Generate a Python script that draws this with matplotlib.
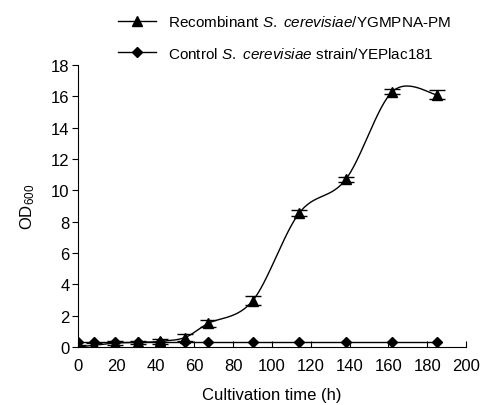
import numpy as np
import matplotlib
matplotlib.use("Agg")
import matplotlib.pyplot as plt
from matplotlib.lines import Line2D

plt.rcParams['font.family'] = ['Liberation Sans', 'DejaVu Sans']
plt.rcParams['mathtext.fontset'] = 'custom'
plt.rcParams['mathtext.rm'] = 'Liberation Sans'
plt.rcParams['mathtext.it'] = 'Liberation Sans:italic'

time_h = [0, 8, 19, 31, 42, 55, 67, 90, 114, 138, 162, 185]
recomb_od = [0.0, 0.1, 0.25, 0.3, 0.35, 0.6, 1.5, 2.95, 8.55, 10.7, 16.3, 16.1]
recomb_err = [0.1, 0.15, 0.1, 0.1, 0.15, 0.25, 0.2, 0.3, 0.2, 0.15, 0.15, 0.3]
control_od = [0.3, 0.3, 0.3, 0.3, 0.3, 0.3, 0.3, 0.3, 0.3, 0.3, 0.3, 0.3]

xticks = list(range(0, 201, 20))
yticks = list(range(0, 19, 2))


def smooth(x, y, n=30):
    x = np.asarray(x, float); y = np.asarray(y, float)
    px = np.concatenate([[x[0]], x, [x[-1]]])
    py = np.concatenate([[y[0]], y, [y[-1]]])
    ox, oy = [], []
    t = np.linspace(0, 1, n)
    for i in range(1, len(px) - 2):
        for arr, out in ((px, ox), (py, oy)):
            p0, p1, p2, p3 = arr[i - 1], arr[i], arr[i + 1], arr[i + 2]
            seg = 0.5 * ((2 * p1) + (-p0 + p2) * t + (2 * p0 - 5 * p1 + 4 * p2 - p3) * t ** 2
                         + (-p0 + 3 * p1 - 3 * p2 + p3) * t ** 3)
            out.extend(seg)
    return np.array(ox), np.array(oy)


fig = plt.figure(figsize=(4.83, 4.06), dpi=100)
ax = fig.add_axes([0.1615, 0.1429, 0.8035, 0.6945])

sx, sy = smooth(time_h, recomb_od)
ax.plot(sx, sy, color='black', lw=1.0, zorder=2)
ax.errorbar(time_h, recomb_od, yerr=recomb_err, fmt='none', ecolor='black',
            elinewidth=1.0, capsize=6, capthick=1.0, zorder=3)
ax.plot(time_h, recomb_od, ls='none', marker='^', ms=7, color='black', zorder=4)

cx, cy = smooth(time_h, control_od)
ax.plot(cx, cy, color='black', lw=1.0, zorder=2)
ax.plot(time_h, control_od, ls='none', marker='D', ms=5.5, color='black', zorder=4)

ax.set_xlim(0, 200)
ax.set_ylim(0, 18)
ax.set_xticks(xticks)
ax.set_yticks(yticks)
ax.spines['top'].set_visible(False)
ax.spines['right'].set_visible(False)
ax.tick_params(axis='x', direction='in', length=4, labelsize=12, pad=8)
ax.tick_params(axis='y', direction='out', length=4, labelsize=12, pad=2)
ax.set_xlabel('Cultivation time (h)', fontsize=12, labelpad=10)
ax.set_ylabel('OD$_{600}$', fontsize=12, labelpad=10)

handles = [Line2D([], [], color='black', lw=1.0, marker='^', ms=7),
           Line2D([], [], color='black', lw=1.0, marker='D', ms=5.5)]
labels = ['Recombinant $\\it{S.\\ cerevisiae}$/YGMPNA-PM',
          'Control $\\it{S.\\ cerevisiae}$ strain/YEPlac181']
fig.legend(handles, labels, loc='upper left', bbox_to_anchor=(118 / 483, 1 - 15 / 406),
           frameon=False, fontsize=11, handlelength=2.5, handletextpad=0.8,
           labelspacing=1.1, borderpad=0, borderaxespad=0)

fig.savefig('out.png', dpi=100)
